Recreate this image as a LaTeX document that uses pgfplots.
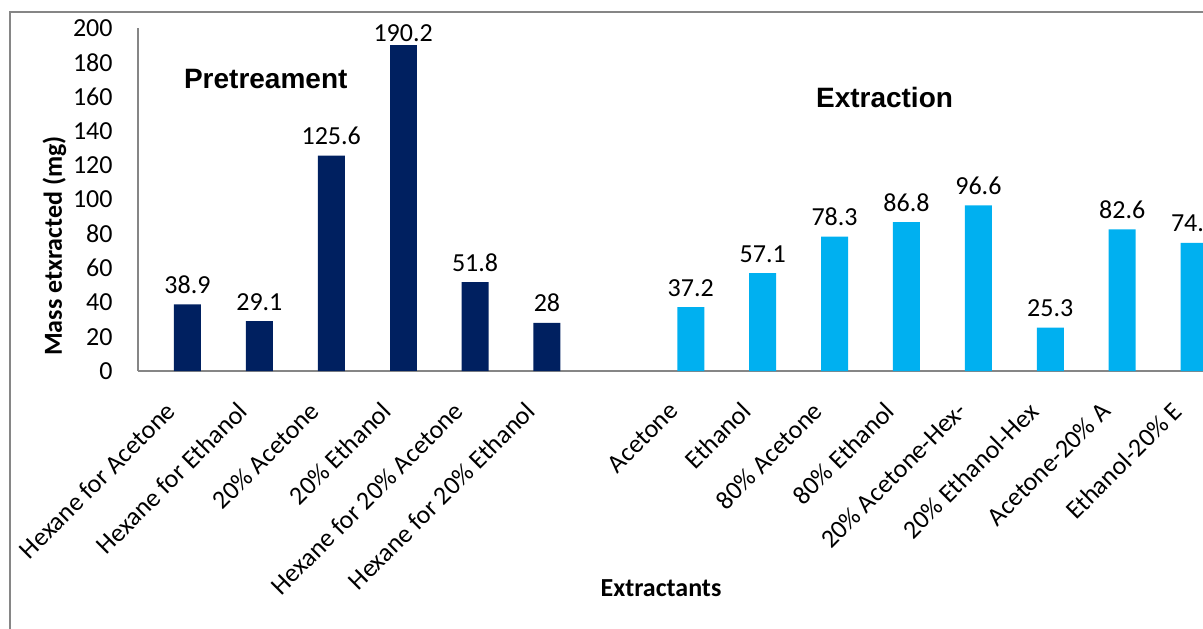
\documentclass[border=0pt]{standalone}
\usepackage{fontspec}
\setmainfont{Carlito}
\newfontfamily\arialfont{Liberation Sans}
\usepackage{pgfplots}
\pgfplotsset{compat=1.18}
\definecolor{navybar}{HTML}{002060}
\definecolor{cyanbar}{HTML}{00B0F0}
\definecolor{axisgray}{HTML}{868686}
\begin{document}
\begin{tikzpicture}
\begin{axis}[
  scale only axis,
  width=532.5pt, height=171.5pt,
  xmin=-0.688, xmax=14.124,
  ymin=0, ymax=200,
  ytick={0,20,...,200},
  xtick={0,1,2,3,4,5,7,8,9,10,11,12,13,14},
  xticklabels={Hexane for Acetone, Hexane for Ethanol, 20\% Acetone, 20\% Ethanol,
    Hexane for 20\% Acetone, Hexane for 20\% Ethanol,
    Acetone, Ethanol, 80\% Acetone, 80\% Ethanol, 20\% Acetone-Hex-,
    20\% Ethanol-Hex, Acetone-20\% A, Ethanol-20\% E},
  /pgf/number format/assume math mode=true,
  axis x line*=bottom, axis y line*=left,
  axis line style={axisgray, line width=0.8pt},
  major tick length=0pt,
  tick style={draw=none},
  yticklabel style={font=\fontsize{13}{13}\selectfont, anchor=east, inner sep=0pt, xshift=-12.5pt},
  % the label offset from its tick comes from the separations of the rotated box
  xticklabel style={font=\fontsize{13}{13}\selectfont,
    rotate=45, anchor=north east, inner xsep=18.4pt, inner ysep=2.1pt},
  ybar, bar width=13.5pt, bar shift=0pt,
  nodes near coords={\pgfmathprintnumber[fixed,precision=1]{\pgfplotspointmeta}},
  every node near coord/.append style={font=\fontsize{13}{13}\selectfont, anchor=base, inner sep=0pt, yshift=5.5pt},
]
% pretreatment steps
\addplot[fill=navybar, draw=none] coordinates {
  (0,38.9) (1,29.1) (2,125.6) (4,51.8) (5,28)};
% tallest bar: its label sits closer to the bar top
\addplot[fill=navybar, draw=none,
  every node near coord/.append style={yshift=-4pt}] coordinates {(3,190.2)};
% extraction solvents
\addplot[fill=cyanbar, draw=none] coordinates {
  (7,37.2) (8,57.1) (9,78.3) (10,86.8) (11,96.6) (12,25.3) (13,82.6) (14,74.7)};
\end{axis}
% group titles and axis titles
\node[anchor=base west, font=\arialfont\bfseries\fontsize{14}{14}\selectfont] at (19.5pt,141.5pt) {Pretreament};
\node[anchor=base west, font=\arialfont\bfseries\fontsize{14}{14}\selectfont] at (335.5pt,132pt) {Extraction};
\node[anchor=base, font=\bfseries\fontsize{13}{13}\selectfont] at (261.5pt,-112.5pt) {Extractants};
\node[anchor=base, rotate=90, font=\bfseries\fontsize{13}{13}\selectfont] at (-38pt,62.5pt) {Mass etxracted (mg)};
% chart frame
\draw[axisgray, line width=0.8pt] (-64pt,-140pt) -- (-64pt,179.5pt) -- (545pt,179.5pt);
\pgfresetboundingbox
\useasboundingbox (-69pt,-128.5pt) rectangle (532.5pt,185.5pt);
\end{tikzpicture}
\end{document}
